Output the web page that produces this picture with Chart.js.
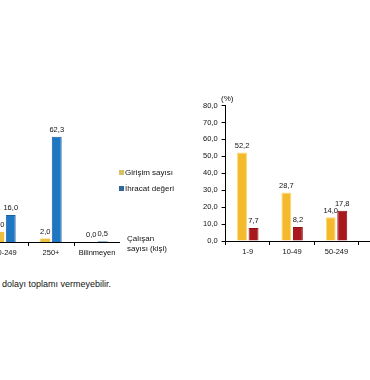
<!DOCTYPE html>
<html>
<head>
<meta charset="utf-8">
<script src="https://cdn.jsdelivr.net/npm/chart.js@4.4.0/dist/chart.umd.min.js"></script>
<style>
  html, body { margin:0; padding:0; background:#fff; }
  body { width:370px; height:380px; position:relative; overflow:hidden; font-family:"Liberation Sans", Arial, sans-serif; }
  #leftBox { position:absolute; left:-20px; top:92px; width:140px; height:167px; }
  #rightBox { position:absolute; left:199px; top:97px; width:204px; height:161px; }
  .txt { position:absolute; font-size:8px; color:#111; white-space:nowrap; line-height:10px; }
  .sw { display:inline-block; width:5px; height:5px; margin-right:1px; vertical-align:0px; }
</style>
</head>
<body>
<div id="leftBox"><canvas id="leftChart"></canvas></div>
<div id="rightBox"><canvas id="rightChart"></canvas></div>

<div class="txt" style="left:119px;top:168px;"><span class="sw" style="background:#D9C163"></span>Girişim sayısı</div>
<div class="txt" style="left:119px;top:184px;"><span class="sw" style="background:#31689A"></span>İhracat değeri</div>
<div class="txt" style="left:127px;top:234px;">Çalışan</div>
<div class="txt" style="left:127px;top:244px;">sayısı (kişi)</div>
<div class="txt" style="left:221px;top:94px;">(%)</div>
<div class="txt" style="left:2px;top:279px;font-size:9px;">dolayı toplamı vermeyebilir.</div>

<script>
// left chart (visible part)
var leftCats = ['50-249', '250+', 'Bilinmeyen'];
var leftFirms = [6.0, 2.0, 0.0];
var leftExports = [16.0, 62.3, 0.5];

// right chart
var rightCats = ['1-9', '10-49', '50-249', '250+'];
var rightFirms = [52.2, 28.7, 14.0, 5.1];
var rightExports = [7.7, 8.2, 17.8, 66.3];

var yMin = 0, yMax = 80, yStep = 10;

var FONT = '"Liberation Sans", Arial, sans-serif';
Chart.defaults.font.family = FONT;
Chart.defaults.font.size = 7.5;
Chart.defaults.color = '#111';

function fmt(v) { return v.toFixed(1).replace('.', ','); }

// value labels above bars
const valueLabels = {
  id: 'valueLabels',
  afterDatasetsDraw(chart) {
    const ctx = chart.ctx;
    ctx.save();
    ctx.font = '7.5px ' + FONT;
    ctx.fillStyle = '#111';
    ctx.textAlign = 'center';
    ctx.textBaseline = 'bottom';
    chart.data.datasets.forEach(function (ds, i) {
      chart.getDatasetMeta(i).data.forEach(function (bar, j) {
        ctx.fillText(fmt(ds.data[j]), bar.x, bar.y - 3);
      });
    });
    ctx.restore();
  }
};

function xAxis() {
  return {
    offset: true,
    grid: { display: true, drawOnChartArea: false, drawTicks: true, tickLength: 4, color: '#000', offset: true },
    border: { display: true, color: '#000', width: 1 },
    ticks: { color: '#111', padding: 2, maxRotation: 0, autoSkip: false, font: { size: 7.5 } }
  };
}

const leftChart = new Chart(document.getElementById('leftChart'), {
  type: 'bar',
  data: {
    labels: leftCats,
    datasets: [
      { label: 'Girişim sayısı', data: leftFirms, backgroundColor: '#EDBF3F', borderWidth: 0 },
      { label: 'İhracat değeri', data: leftExports, backgroundColor: '#1E77C3', borderColor: '#1A5E9C', borderWidth: 1 }
    ]
  },
  options: {
    responsive: true,
    maintainAspectRatio: false,
    animation: false,
    categoryPercentage: 0.5,
    barPercentage: 0.86,
    layout: { padding: { left: 2, right: 0, top: 15, bottom: 0 } },
    plugins: { legend: { display: false }, tooltip: { enabled: false } },
    scales: {
      x: xAxis(),
      y: { display: false, min: yMin, max: yMax }
    }
  },
  plugins: [valueLabels]
});

const rightChart = new Chart(document.getElementById('rightChart'), {
  type: 'bar',
  data: {
    labels: rightCats,
    datasets: [
      { label: 'Girişim sayısı', data: rightFirms, backgroundColor: '#F5BA2B', borderColor: '#FBD978', borderWidth: 1 },
      { label: 'İhracat değeri', data: rightExports, backgroundColor: '#A8181C', borderColor: '#8E1216', borderWidth: 1 }
    ]
  },
  options: {
    responsive: true,
    maintainAspectRatio: false,
    animation: false,
    categoryPercentage: 0.52,
    barPercentage: 0.86,
    layout: { padding: { left: 0, right: 0, top: 0, bottom: 0 } },
    plugins: { legend: { display: false }, tooltip: { enabled: false } },
    scales: {
      x: xAxis(),
      y: {
        min: yMin, max: yMax,
        grid: { display: true, drawOnChartArea: false, drawTicks: true, tickLength: 4, color: '#000' },
        border: { display: true, color: '#000', width: 1 },
        ticks: { stepSize: yStep, padding: 4, color: '#111', font: { size: 7.5 }, callback: function (v) { return fmt(v); } }
      }
    }
  },
  plugins: [valueLabels]
});
</script>
</body>
</html>
